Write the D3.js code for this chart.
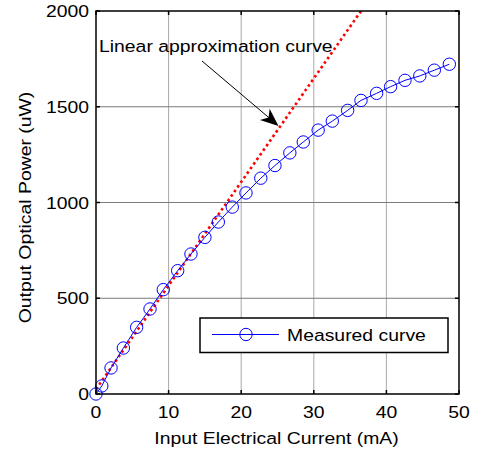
<!DOCTYPE html>
<html><head><meta charset="utf-8">
<script src="https://cdn.jsdelivr.net/npm/d3@7"></script>
<style>body{margin:0;background:#fff}svg{display:block}text{font-family:"Liberation Sans",Arial,sans-serif;fill:#000}</style>
</head><body>
<script>
const currents = [0,0.8,2.07,3.77,5.6,7.44,9.27,11.25,13.08,15.0,16.85,18.77,20.66,22.7,24.65,26.7,28.55,30.6,32.55,34.66,36.5,38.65,40.58,42.56,44.6,46.6,48.67];
const powers = [0,42,136,240,348,444,545,644,731,818,898,976,1050,1127,1193,1259,1316,1378,1425,1481,1533,1570,1605,1638,1661,1691,1722];
const linearX = [0, 50];
const linearY = [25, 25 + 54.1*50];
const xTicks = [0,10,20,30,40,50];
const yTicks = [0,500,1000,1500,2000];
const xLabel = "Input Electrical Current (mA)";
const yLabel = "Output Optical Power (uW)";
const annotation = "Linear approximation curve";
const legendLabel = "Measured curve";

const W=483,H=456;
const L=96,R=459,T=11,B=394;
const FS=17, SX=1.14;
const svg=d3.select("body").append("svg").attr("width",W).attr("height",H);
const x=d3.scaleLinear().domain([0,50]).range([L,R]);
const y=d3.scaleLinear().domain([0,2000]).range([B,T]);

function stext(g,tx,ty,str,anchor,rot){
  const gg=g.append("g").attr("transform",`translate(${tx},${ty})${rot?` rotate(${rot})`:""} scale(${SX},1)`);
  gg.append("text").attr("text-anchor",anchor||"start").attr("font-size",FS).text(str);
  return gg;
}

// grid
svg.append("g").selectAll("line").data(xTicks.slice(1,-1)).join("line")
  .attr("x1",d=>x(d)).attr("x2",d=>x(d)).attr("y1",T).attr("y2",B)
  .attr("stroke","#a8a8a8").attr("stroke-width",1);
svg.append("g").selectAll("line").data(yTicks.slice(1,-1)).join("line")
  .attr("y1",d=>y(d)).attr("y2",d=>y(d)).attr("x1",L).attr("x2",R)
  .attr("stroke","#7a7a7a").attr("stroke-width",1);

svg.append("clipPath").attr("id","pc").append("rect").attr("x",L).attr("y",T).attr("width",R-L).attr("height",B-T);

// linear approximation (red dotted)
svg.append("path").attr("clip-path","url(#pc)")
  .datum(linearX.map((v,i)=>[v,linearY[i]]))
  .attr("d",d3.line().x(d=>x(d[0])).y(d=>y(d[1])))
  .attr("fill","none").attr("stroke","#ff0000").attr("stroke-width",2.6).attr("stroke-dasharray","2.6,3");

// measured
const meas=currents.map((c,i)=>[c,powers[i]]);
svg.append("path").datum(meas).attr("d",d3.line().x(d=>x(d[0])).y(d=>y(d[1])))
  .attr("fill","none").attr("stroke","#0000ff").attr("stroke-width",1);
svg.append("g").selectAll("circle").data(meas).join("circle")
  .attr("cx",d=>x(d[0])).attr("cy",d=>y(d[1])).attr("r",6.2)
  .attr("fill","none").attr("stroke","#0000ff").attr("stroke-width",1);

// axes box
svg.append("rect").attr("x",L).attr("y",T).attr("width",R-L).attr("height",B-T)
  .attr("fill","none").attr("stroke","#000").attr("stroke-width",1.5);
const tk=svg.append("g").attr("stroke","#000").attr("stroke-width",1.5);
xTicks.forEach(d=>{
  tk.append("line").attr("x1",x(d)).attr("x2",x(d)).attr("y1",B).attr("y2",B-4);
  tk.append("line").attr("x1",x(d)).attr("x2",x(d)).attr("y1",T).attr("y2",T+4);
});
yTicks.forEach(d=>{
  tk.append("line").attr("y1",y(d)).attr("y2",y(d)).attr("x1",L).attr("x2",L+4);
  tk.append("line").attr("y1",y(d)).attr("y2",y(d)).attr("x1",R).attr("x2",R-4);
});
xTicks.forEach(d=>stext(svg,x(d),417.5,String(d),"middle"));
yTicks.forEach(d=>stext(svg,89,y(d)+6,String(d),"end"));
stext(svg,(L+R)/2-1,443.5,xLabel,"middle");
stext(svg,30.5,(T+B)/2+5,yLabel,"middle",-90);

// annotation
stext(svg,99,52,annotation,"start");
const ax0=202,ay0=61,ax1=278.5,ay1=126;
svg.append("line").attr("x1",ax0).attr("y1",ay0).attr("x2",ax1-8).attr("y2",ay1-7).attr("stroke","#000").attr("stroke-width",1);
{
  const ang=Math.atan2(ay1-ay0,ax1-ax0);
  const len=18, hw=7.5, notch=5;
  const ux=Math.cos(ang),uy=Math.sin(ang),px=-uy,py=ux;
  const bx=ax1-ux*len,by=ay1-uy*len;
  const pts=[[ax1,ay1],[bx+px*hw,by+py*hw],[bx+ux*notch,by+uy*notch],[bx-px*hw,by-py*hw]];
  svg.append("path").attr("d","M"+pts.map(p=>p.join(",")).join("L")+"Z").attr("fill","#000");
}

// legend
const lg=svg.append("g");
lg.append("rect").attr("x",200).attr("y",318).attr("width",248).attr("height",34.5)
  .attr("fill","#fff").attr("stroke","#000").attr("stroke-width",1.5);
lg.append("line").attr("x1",212).attr("x2",279).attr("y1",334.5).attr("y2",334.5).attr("stroke","#0000ff").attr("stroke-width",1);
lg.append("circle").attr("cx",246).attr("cy",334.5).attr("r",6.2).attr("fill","none").attr("stroke","#0000ff").attr("stroke-width",1);
stext(lg,287,341,legendLabel,"start");
</script>
</body></html>
